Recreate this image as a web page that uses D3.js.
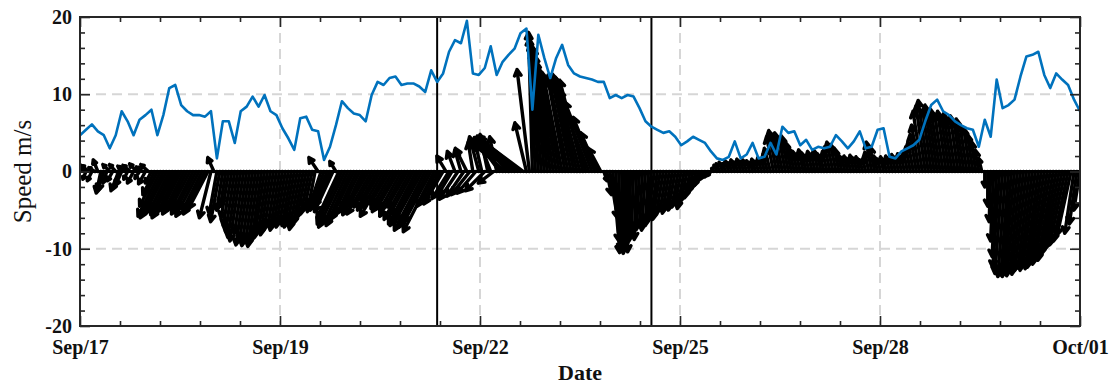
<!DOCTYPE html>
<html>
<head>
<meta charset="utf-8">
<script src="https://cdn.jsdelivr.net/npm/d3@7"></script>
<style>
  body { margin: 0; background: #fff; }
  text { font-family: "Liberation Serif", "Times New Roman", serif; }
</style>
</head>
<body>
<svg id="chart" width="1115" height="385"></svg>
<script>
// time span of the record
const startDate = new Date(Date.UTC(2017, 8, 17));
const endDate = new Date(Date.UTC(2017, 9, 1));

// x tick positions (MATLAB-style datetick, labels floored to the day)
const xTickDates = [
  '2017-09-17T00:00:00Z', '2017-09-19T19:12:00Z', '2017-09-22T14:24:00Z',
  '2017-09-25T09:36:00Z', '2017-09-28T04:48:00Z', '2017-10-01T00:00:00Z'
];
const yTicks = [-20, -10, 0, 10, 20];
const eventDates = ['2017-09-22T00:00:00Z', '2017-09-25T00:00:00Z'];

// wind speed (m/s), one value every 2 hours from Sep/17 00:00
const speedStepHours = 2;
const speed = [
  4.7, 5.4, 6.1, 5.2, 4.7, 3.0, 4.7, 7.8, 6.5, 4.7, 6.7, 7.3,
  8.0, 4.7, 7.3, 10.8, 11.2, 8.6, 7.8, 7.3, 7.3, 7.1, 7.8, 1.7,
  6.5, 6.5, 3.7, 7.8, 8.4, 9.7, 8.4, 9.9, 7.8, 7.3, 5.6, 4.3,
  2.8, 6.9, 7.1, 5.4, 5.2, 1.5, 3.2, 6.0, 9.1, 8.2, 7.5, 7.3,
  6.5, 9.9, 11.6, 11.2, 12.1, 12.3, 11.2, 11.4, 11.4, 11.0, 10.3, 13.1,
  11.6, 12.7, 15.5, 17.0, 16.6, 19.5, 12.7, 12.5, 13.4, 16.2, 12.5, 14.2,
  15.1, 15.9, 17.9, 18.5, 8.0, 17.7, 14.7, 12.1, 14.7, 16.4, 13.8, 12.7,
  12.3, 12.1, 11.9, 11.6, 11.6, 9.5, 9.9, 9.5, 9.9, 9.7, 8.2, 6.5,
  5.8, 5.4, 5.0, 5.2, 4.5, 3.4, 3.9, 4.5, 4.1, 3.7, 2.6, 1.7,
  1.5, 1.9, 3.9, 1.7, 2.2, 3.7, 1.7, 1.9, 3.7, 2.2, 5.8, 5.0,
  5.2, 3.4, 4.1, 2.8, 3.2, 3.0, 3.2, 4.7, 3.9, 3.0, 3.9, 5.2,
  3.0, 3.2, 5.4, 5.6, 1.9, 1.7, 2.6, 3.0, 3.4, 4.1, 6.5, 8.6,
  9.3, 7.8, 7.3, 6.5, 6.0, 5.6, 5.4, 3.2, 6.7, 4.5, 11.9, 8.2,
  8.6, 9.3, 12.3, 14.9, 15.1, 15.5, 12.5, 10.8, 12.7, 11.9, 11.2, 9.3,
  7.8
];

// stick vectors (m/s), one every hour from Sep/17 00:00
const stickStepHours = 1;
const stickU = [
  -0.5, -0.8, -0.4, -1.0, -0.6, -0.8, -0.6, -0.6, -0.8, -0.5, -0.9, -0.7,
  -0.8, -1.0, -0.8, -0.9, -0.5, -1.0, -0.8, -0.9, -0.6, -0.8, -0.9, -1.0,
  -0.8, -1.5, -2.3, -2.9, -3.0, -2.8, -2.4, -2.8, -3.0, -2.6, -2.3, -2.8,
  -2.6, -2.4, -2.8, -2.5, -3.0, -2.5, -2.8, -2.5, -1.5, -0.8, -1.0, -1.2,
  -0.8, -0.7, -1.0, -1.1, -1.2, -1.3, -1.4, -1.2, -1.4, -1.3, -1.4, -1.3,
  -1.4, -1.3, -1.3, -1.2, -1.3, -1.2, -1.1, -1.2, -1.1, -1.2, -1.1, -1.2,
  -1.3, -1.2, -1.4, -1.3, -1.2, -1.1, -1.0, -1.0, -1.2, -1.5, -1.8, -1.6,
  -2.0, -2.4, -0.8, -2.8, -3.2, -3.4, -3.0, -3.2, -3.0, -2.6, -2.4, -2.6,
  -2.8, -2.5, -3.2, -2.7, -2.2, -3.0, -2.6, -3.4, -2.5, -2.8, -3.0, -2.7,
  -2.8, -3.2, -2.6, -3.4, -3.0, -3.6, -3.8, -3.4, -4.0, -3.8, -3.5, -4.0,
  -2.6, -2.2, -2.5, -1.2, -2.2, -1.8, -1.0, -2.4, -0.8, -2.2, -1.5, -2.4,
  -0.6, -2.4, -1.2, -0.8, -2.5, -1.0, -1.6, -2.0, -0.9, -2.8, -3.5, -4.2,
  -4.0, -4.6, -5.2, -5.0, -5.6, -5.8, -1.5, -1.6, -0.5, -0.8, -1.0, -1.2,
  -1.4, -1.6, -1.8, -2.0, -1.9, -2.2, -2.4, -2.2, -2.6, -2.5, -2.8, -2.9,
  -3.2, -3.0, -3.4, -4.6, -3.5, -2.8, -2.2, -1.6, 0.4, 0.6, 1.0, 0.8,
  0.5, 0.3, 0.2, 0.0, 0.0, -0.2, -0.3, -0.3, -0.4, -0.4, -0.5, -0.4,
  -0.8, -0.9, -0.8, -1.0, -0.9, -0.8, -0.9, -0.8, -0.9, -0.8, -0.8, -0.9,
  -0.8, -0.7, -0.7, -0.6, -0.6, -0.5, -0.5, -0.4, -0.4, -0.3, -0.4, -0.5,
  -0.5, -0.4, -0.5, -0.4, -0.5, -0.4, -0.5, -0.4, -0.5, -0.4, -0.3, -0.5,
  -0.4, -0.5, -0.4, -0.6, -0.8, -0.9, -1.0, -0.9, -1.0, -0.8, -0.9, -0.8,
  -0.7, -0.6, -0.5, -0.6, -0.6, -0.5, -0.6, -0.5, -0.6, -0.5, -0.5, -0.6,
  -0.7, -0.8, -0.7, -0.6, -0.5, -0.4, -0.5, -0.4, -0.5, -0.4, -0.5, -0.4,
  -0.4, -0.5, -0.7, -0.6, -0.5, -0.4, -0.4, -0.4, -0.5, -0.4, -0.5, -0.4,
  -0.5, -0.4, -0.5, -0.6, -0.7, -0.8, -1.0, -1.2, -1.2, -1.3, -1.1, -1.2,
  -1.1, -1.2, -1.1, -1.1, -1.0, -1.1, -1.0, -1.0, -0.9, -1.0, -0.9, -0.8,
  -0.7, -0.6, -0.5, -0.4, 0.0, 0.0, -0.2, -0.4, -0.6, -0.9, -1.0, -1.0,
  -1.0, -1.2, -1.3, -1.4, -1.4, -1.5, -1.5, -1.5, -1.6, -1.6, -1.7, -1.8,
  -1.8, -1.9, -1.9, -2.0, -2.0, -2.0, -2.0, -2.0, -1.9, -1.8, -1.2, -1.0, -0.8
];
const stickV = [
  -0.8, 0.6, -1.0, 0.8, -1.2, 0.5, 1.5, -2.8, -2.5, -1.5, 0.9, -1.2,
  0.9, -2.5, -1.8, 0.7, -1.0, 0.8, -1.5, 1.0, -0.9, 0.6, -1.6, 0.9,
  -1.5, -3.0, -4.5, -5.8, -6.0, -5.5, -4.8, -5.6, -6.0, -5.2, -4.5, -5.5,
  -5.0, -4.6, -5.5, -4.8, -5.8, -5.0, -5.5, -4.8, -6.0, 1.8, -5.5, -6.5,
  -5.0, -4.5, -6.0, -7.0, -7.8, -8.5, -9.0, -8.0, -9.5, -8.8, -9.6, -9.0,
  -9.7, -9.0, -8.5, -7.8, -8.2, -7.5, -7.0, -7.6, -6.8, -7.2, -6.5, -7.0,
  -7.2, -6.5, -7.5, -6.8, -6.0, -5.5, -4.8, -5.2, 1.8, -4.5, -5.0, -4.2,
  -4.5, -5.2, 1.3, -6.0, -6.8, -7.2, -6.5, -7.0, -6.2, -5.5, -5.0, -5.6,
  -4.8, -4.2, -5.5, -4.6, -3.8, -5.0, -4.4, -5.8, -4.2, -4.8, -5.2, -4.6,
  -5.0, -5.8, -4.6, -6.2, -5.5, -6.8, -7.0, -6.2, -7.6, -7.2, -6.5, -7.8,
  -4.5, -3.8, -4.2, 2.0, -3.5, -3.0, 2.6, -3.6, 2.8, -3.2, 3.0, -3.0,
  3.8, -2.8, 4.5, 3.5, -2.5, 4.8, 4.2, -1.5, 4.5, 3.8, 4.0, 3.6,
  4.2, 3.8, 4.4, 4.0, 4.6, 4.3, 6.3, 13.2, 18.0, 17.2, 16.5, 15.5,
  16.0, 15.0, 14.2, 13.5, 12.0, 12.8, 12.3, 11.8, 12.5, 12.0, 12.6, 11.5,
  12.2, 11.8, 10.5, 11.8, 9.0, 7.0, 5.0, 3.0, -1.2, -3.0, -6.0, -9.0,
  -10.5, -10.2, -10.6, -10.0, -10.4, -9.0, -8.5, -8.8, -7.5, -7.0, -7.6, -6.5,
  -7.0, -6.5, -5.8, -6.2, -5.5, -5.0, -5.4, -4.8, -5.0, -4.6, -4.2, -4.8,
  -3.8, -3.4, -2.8, -2.2, -1.8, -1.2, -0.9, -0.7, -0.5, 0.4, 0.8, 1.0,
  1.2, 1.0, 1.4, 1.1, 1.5, 1.2, 1.6, 1.3, 1.5, 1.4, 1.2, 1.6,
  1.3, 1.8, 1.5, 2.2, 3.0, 4.5, 5.3, 4.8, 5.0, 4.2, 4.6, 3.8,
  3.0, 2.6, 2.2, 2.8, 2.4, 2.0, 2.6, 2.2, 2.8, 2.3, 2.0, 2.6,
  3.2, 3.8, 3.5, 3.0, 2.2, 1.8, 2.0, 1.6, 2.1, 1.7, 1.9, 1.5,
  1.6, 2.5, 3.8, 3.2, 2.0, 1.6, 1.9, 1.5, 2.0, 1.7, 2.2, 1.8,
  2.3, 1.9, 2.6, 3.2, 3.8, 4.8, 6.0, 7.8, 8.5, 9.2, 8.0, 8.6,
  7.6, 8.0, 7.4, 7.8, 7.0, 7.5, 6.8, 7.2, 6.5, 6.8, 6.0, 5.6,
  4.8, 3.9, 2.8, 1.7, -2.0, -4.5, -6.5, -9.0, -11.0, -12.4, -13.2, -13.6,
  -13.4, -13.6, -13.2, -13.5, -13.0, -13.3, -12.8, -12.5, -12.8, -12.2, -12.6, -12.4,
  -11.8, -12.0, -11.2, -11.5, -10.8, -10.2, -9.8, -9.5, -9.0, -8.2, -8.0, -6.8, -5.0
];

const plot = { left: 80, right: 1080, top: 17, bottom: 326 };
const hour = 3600 * 1000;

const svg = d3.select('#chart');

const x = d3.scaleUtc().domain([startDate, endDate]).range([plot.left, plot.right]);
const y = d3.scaleLinear().domain([-20, 20]).range([plot.bottom, plot.top]);

const xTicks = xTickDates.map((s) => new Date(s));
let xMinor = [];
for (let i = 0; i < xTicks.length - 1; i++) {
  const a = +xTicks[i], b = +xTicks[i + 1];
  for (let j = 1; j < 5; j++) xMinor.push(new Date(a + (b - a) * j / 5));
}
const yMinor = d3.range(-18, 20, 2).filter((v) => v % 10 !== 0);

svg.append('defs').append('clipPath').attr('id', 'plotClip')
  .append('rect')
  .attr('x', plot.left).attr('y', plot.top)
  .attr('width', plot.right - plot.left).attr('height', plot.bottom - plot.top);

// dashed grid
const grid = svg.append('g').attr('class', 'grid')
  .attr('stroke', '#d6d6d6').attr('stroke-width', 2).attr('stroke-dasharray', '10,6');
grid.selectAll('line.gx').data(xTicks.slice(1, -1)).join('line')
  .attr('class', 'gx')
  .attr('x1', (d) => x(d)).attr('x2', (d) => x(d))
  .attr('y1', plot.top).attr('y2', plot.bottom);
grid.selectAll('line.gy').data([-10, 0, 10]).join('line')
  .attr('class', 'gy')
  .attr('x1', plot.left).attr('x2', plot.right)
  .attr('y1', (d) => y(d)).attr('y2', (d) => y(d));

// stick (quiver) plot
const pxPerUnit = y(0) - y(1);
const sticks = stickV.map((v, i) => ({
  t: new Date(+startDate + i * stickStepHours * hour),
  u: stickU[i],
  v: v,
}));

function arrowPath(d) {
  const bx = x(d.t), by = y(0);
  const tx = bx + d.u * pxPerUnit, ty = y(d.v);
  const len = Math.hypot(tx - bx, ty - by);
  const ang = Math.atan2(ty - by, tx - bx);
  const h = Math.min(7, 0.35 * len);
  const spread = 0.5;
  const p1 = [tx - h * Math.cos(ang - spread), ty - h * Math.sin(ang - spread)];
  const p2 = [tx - h * Math.cos(ang + spread), ty - h * Math.sin(ang + spread)];
  return `M${bx},${by}L${tx},${ty}M${p1[0]},${p1[1]}L${tx},${ty}L${p2[0]},${p2[1]}`;
}

const quiver = svg.append('g').attr('clip-path', 'url(#plotClip)');
quiver.selectAll('path').data(sticks).join('path')
  .attr('d', arrowPath)
  .attr('fill', 'none')
  .attr('stroke', '#000')
  .attr('stroke-width', 3.4)
  .attr('stroke-linecap', 'round')
  .attr('stroke-linejoin', 'round');

// zero line of the stick plot
svg.append('line')
  .attr('x1', plot.left).attr('x2', plot.right)
  .attr('y1', y(0)).attr('y2', y(0))
  .attr('stroke', '#000').attr('stroke-width', 3);

// event markers
svg.append('g').selectAll('line').data(eventDates.map((s) => new Date(s))).join('line')
  .attr('x1', (d) => x(d)).attr('x2', (d) => x(d))
  .attr('y1', plot.top).attr('y2', plot.bottom)
  .attr('stroke', '#000').attr('stroke-width', 2);

// wind speed line
const speedData = speed.map((v, i) => ({ t: new Date(+startDate + i * speedStepHours * hour), v: v }));
svg.append('path')
  .datum(speedData)
  .attr('clip-path', 'url(#plotClip)')
  .attr('fill', 'none')
  .attr('stroke', '#0072BD')
  .attr('stroke-width', 2.6)
  .attr('stroke-linejoin', 'round')
  .attr('d', d3.line().x((d) => x(d.t)).y((d) => y(d.v)));

// axes
const fmt = d3.utcFormat('%b/%d');
function styleAxis(g) {
  g.select('.domain').remove();
  g.selectAll('.tick line').attr('stroke', '#262626').attr('stroke-width', 1.6);
  g.selectAll('.tick text')
    .attr('fill', '#111')
    .style('font-family', '"Liberation Serif", "Times New Roman", serif')
    .style('font-size', '20px')
    .style('font-weight', 'bold');
}

svg.append('g').attr('transform', `translate(0,${plot.bottom})`)
  .call(d3.axisBottom(x).tickValues(xTicks).tickFormat(fmt).tickSize(-10).tickSizeOuter(0).tickPadding(14))
  .call(styleAxis);
svg.append('g').attr('transform', `translate(0,${plot.bottom})`)
  .call(d3.axisBottom(x).tickValues(xMinor).tickFormat('').tickSize(-5).tickSizeOuter(0))
  .call(styleAxis);
svg.append('g').attr('transform', `translate(0,${plot.top})`)
  .call(d3.axisTop(x).tickValues(xTicks).tickFormat('').tickSize(-10).tickSizeOuter(0))
  .call(styleAxis);
svg.append('g').attr('transform', `translate(0,${plot.top})`)
  .call(d3.axisTop(x).tickValues(xMinor).tickFormat('').tickSize(-5).tickSizeOuter(0))
  .call(styleAxis);

svg.append('g').attr('transform', `translate(${plot.left},0)`)
  .call(d3.axisLeft(y).tickValues(yTicks).tickFormat((d) => String(d)).tickSize(-10).tickSizeOuter(0).tickPadding(8))
  .call(styleAxis);
svg.append('g').attr('transform', `translate(${plot.left},0)`)
  .call(d3.axisLeft(y).tickValues(yMinor).tickFormat('').tickSize(-5).tickSizeOuter(0))
  .call(styleAxis);
svg.append('g').attr('transform', `translate(${plot.right},0)`)
  .call(d3.axisRight(y).tickValues(yTicks).tickFormat('').tickSize(-10).tickSizeOuter(0))
  .call(styleAxis);
svg.append('g').attr('transform', `translate(${plot.right},0)`)
  .call(d3.axisRight(y).tickValues(yMinor).tickFormat('').tickSize(-5).tickSizeOuter(0))
  .call(styleAxis);

// box
svg.append('rect')
  .attr('x', plot.left).attr('y', plot.top)
  .attr('width', plot.right - plot.left).attr('height', plot.bottom - plot.top)
  .attr('fill', 'none').attr('stroke', '#262626').attr('stroke-width', 2);

// axis titles
svg.append('text')
  .attr('x', (plot.left + plot.right) / 2).attr('y', 380)
  .attr('text-anchor', 'middle')
  .attr('fill', '#111')
  .style('font-size', '22px').style('font-weight', 'bold')
  .text('Date');
svg.append('text')
  .attr('transform', `translate(31,${y(0)}) rotate(-90)`)
  .attr('text-anchor', 'middle')
  .attr('fill', '#111')
  .style('font-size', '25px')
  .text('Speed m/s');
</script>
</body>
</html>
